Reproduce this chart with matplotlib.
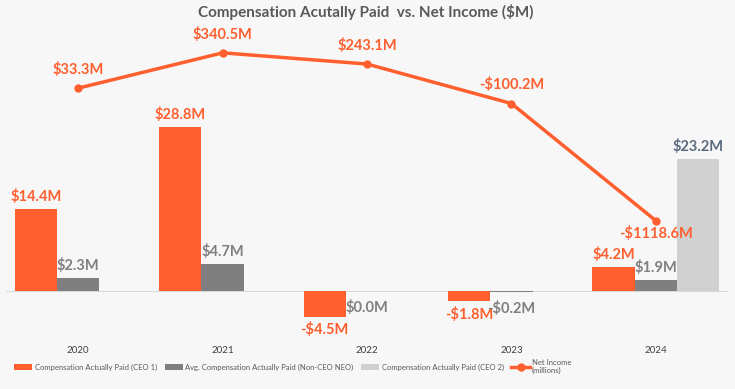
import matplotlib.pyplot as plt
import numpy as np

years = ["2020", "2021", "2022", "2023", "2024"]
ceo1_pay = [14.4, 28.8, -4.5, -1.8, 4.2]
neo_pay = [2.3, 4.7, 0.0, -0.2, 1.9]
ceo2_pay = [0, 0, 0, 0, 23.2]
net_income = [33.3, 340.5, 243.1, -100.2, -1118.6]

ORANGE = "#FF5F2E"
DARK = "#7F7F7F"
LIGHT = "#D0D0D0"
BG = "#F7F7F7"

plt.rcParams["font.family"] = ["Lato", "DejaVu Sans"]

fig = plt.figure(figsize=(7.35, 3.89), dpi=100, facecolor=BG)
ax = fig.add_axes([6 / 735, 1 - 335 / 389, 722 / 735, 305 / 389])
ax.set_facecolor(BG)

x = np.arange(len(years))
w = 0.293

b1 = ax.bar(x - w, ceo1_pay, w, color=ORANGE, label="Compensation Actually Paid (CEO 1)")
b2 = ax.bar(x, neo_pay, w, color=DARK, label="Avg. Compensation Actually Paid (Non-CEO NEO)")
b3 = ax.bar(x + w, ceo2_pay, w, color=LIGHT, label="Compensation Actually Paid (CEO 2)")

ax.axhline(0, color="#D9D9D9", lw=0.8, zorder=0)
ax.set_xlim(-0.5, 4.5)
ax.set_ylim(-7.7, 45.9)
ax.set_yticks([])
ax.set_xticks(x)
ax.set_xticklabels(years, fontsize=7, color="#404040")
ax.tick_params(axis="x", length=0, pad=8)
for s in ax.spines.values():
    s.set_visible(False)


def fmt(v):
    return ("-$%.1fM" % abs(v)) if v < 0 else ("$%.1fM" % v)


LBL = 10.5
for i in range(len(years)):
    v = ceo1_pay[i]
    ax.annotate(fmt(v), (x[i] - w, v), xytext=(0, 4 if v >= 0 else -4),
                textcoords="offset points", ha="center",
                va="bottom" if v >= 0 else "top",
                color=ORANGE, fontsize=LBL, fontweight="bold")
    v = neo_pay[i]
    ax.annotate(fmt(v), (x[i], v), xytext=(0, 4 if v > 0 else -6),
                textcoords="offset points", ha="center",
                va="bottom" if v > 0 else "top",
                color=DARK, fontsize=LBL, fontweight="bold")
    if ceo2_pay[i] != 0:
        ax.annotate(fmt(ceo2_pay[i]), (x[i] + w, ceo2_pay[i]), xytext=(0, 4),
                    textcoords="offset points", ha="center", va="bottom",
                    color="#5B6B7F", fontsize=LBL, fontweight="bold")

ax2 = ax.twinx()
ax2.set_ylim(-2113, 539)
ax2.set_yticks([])
for s in ax2.spines.values():
    s.set_visible(False)
ln, = ax2.plot(x, net_income, color=ORANGE, lw=2.5, marker="o", ms=5,
               label="Net Income\n(millions)")
for i, v in enumerate(net_income):
    last = i == len(net_income) - 1
    ax2.annotate(fmt(v), (x[i], v), xytext=(0, -4 if last else 8),
                 textcoords="offset points", ha="center",
                 va="top" if last else "bottom",
                 color=ORANGE, fontsize=LBL, fontweight="bold")

fig.text(0.497, 0.968, "Compensation Acutally Paid  vs. Net Income ($M)",
         ha="center", va="center", fontsize=11, fontweight="bold", color="#595959")

fig.legend([b1, b2, b3, ln],
           [b1.get_label(), b2.get_label(), b3.get_label(), ln.get_label()],
           loc="upper left", bbox_to_anchor=(14 / 735, 1 - 359 / 389), ncol=4,
           frameon=False, fontsize=5.5, labelcolor="#595959", handlelength=2.4,
           handleheight=0.9, columnspacing=1.0, handletextpad=0.3,
           borderpad=0, borderaxespad=0)

fig.savefig("out.png", dpi=100, facecolor=BG)
